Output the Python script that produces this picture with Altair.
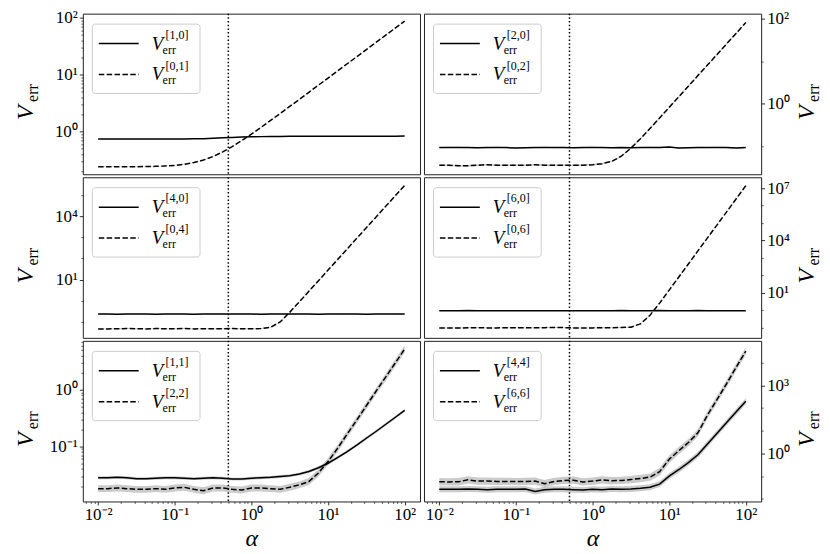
import altair as alt
import pandas as pd

# ---------------- data ----------------
alpha = [0.01, 0.0133, 0.0178, 0.0237, 0.0316, 0.0422, 0.0562, 0.075, 0.1, 0.133,
         0.178, 0.237, 0.316, 0.422, 0.562, 0.75, 1.0, 1.33, 1.78, 2.37, 3.16, 4.22,
         5.62, 7.5, 10.0, 13.3, 17.8, 23.7, 31.6, 42.2, 56.2, 75.0, 100.0]

alpha_mark = [0.5]

p1_solid = [0.74, 0.74, 0.74, 0.74, 0.74, 0.74, 0.74, 0.74, 0.74, 0.742, 0.745, 0.75, 0.76,
            0.775, 0.79, 0.80, 0.81, 0.815, 0.82, 0.82, 0.825, 0.825, 0.825, 0.83, 0.83,
            0.83, 0.83, 0.83, 0.83, 0.83, 0.83, 0.83, 0.835]
p1_dash = [0.24, 0.24, 0.24, 0.241, 0.242, 0.243, 0.245, 0.249, 0.255, 0.266, 0.286, 0.316,
           0.365, 0.439, 0.545, 0.695, 0.90, 1.18, 1.57, 2.07, 2.76, 3.67, 4.89, 6.53, 8.7,
           11.6, 15.5, 20.6, 27.5, 36.7, 48.9, 65.3, 87.0]

p2_solid = [0.091, 0.092, 0.092, 0.091, 0.090, 0.091, 0.092, 0.091, 0.089, 0.090, 0.091,
            0.092, 0.091, 0.091, 0.090, 0.091, 0.092, 0.091, 0.090, 0.091, 0.090, 0.091,
            0.092, 0.091, 0.094, 0.089, 0.090, 0.091, 0.091, 0.092, 0.091, 0.089, 0.091]
p2_dash = [0.035, 0.035, 0.034, 0.034, 0.035, 0.036, 0.035, 0.035, 0.035, 0.035, 0.036,
           0.035, 0.035, 0.035, 0.035, 0.035, 0.036, 0.038, 0.043, 0.057, 0.088, 0.148,
           0.258, 0.457, 0.81, 1.43, 2.57, 4.55, 8.09, 14.4, 25.6, 45.6, 81.0]

p3_solid = [0.235, 0.235, 0.232, 0.235, 0.237, 0.235, 0.233, 0.235, 0.236, 0.235, 0.234,
            0.236, 0.235, 0.235, 0.236, 0.235, 0.235, 0.234, 0.236, 0.237, 0.235, 0.236,
            0.235, 0.234, 0.236, 0.235, 0.238, 0.236, 0.234, 0.235, 0.237, 0.235, 0.235]
p3_dash = [0.047, 0.047, 0.048, 0.049, 0.048, 0.047, 0.049, 0.048, 0.048, 0.049, 0.047,
           0.048, 0.048, 0.048, 0.049, 0.048, 0.048, 0.049, 0.056, 0.10, 0.284, 0.889,
           2.8, 8.86, 28.0, 87.6, 280.0, 885.0, 2800.0, 8870.0, 28000.0, 88600.0, 280000.0]

p4_solid = [0.91, 0.91, 0.92, 0.93, 0.91, 0.90, 0.91, 0.92, 0.91, 0.90, 0.91, 0.92, 0.91,
            0.91, 0.92, 0.91, 0.91, 0.90, 0.92, 0.93, 0.91, 0.91, 0.92, 0.94, 0.92, 0.90,
            0.91, 0.93, 0.91, 0.91, 0.92, 0.91, 0.91]
p4_dash = [0.093, 0.094, 0.093, 0.095, 0.097, 0.094, 0.094, 0.095, 0.095, 0.096, 0.096,
           0.097, 0.099, 0.098, 0.093, 0.092, 0.094, 0.096, 0.097, 0.099, 0.103, 0.16,
           0.5, 2.49, 14.0, 77.0, 442.0, 2490.0, 14000.0, 78700.0, 440000.0, 2500000.0,
           14000000.0]

p5_solid = [0.028, 0.028, 0.0285, 0.028, 0.027, 0.027, 0.0275, 0.028, 0.028, 0.0275, 0.027,
            0.0275, 0.028, 0.0275, 0.0265, 0.0265, 0.0275, 0.028, 0.0285, 0.0295, 0.0305,
            0.0325, 0.036, 0.042, 0.0505, 0.0636, 0.0812, 0.105, 0.139, 0.183, 0.243,
            0.323, 0.43]
p5_dash = [0.018, 0.018, 0.0185, 0.018, 0.0175, 0.0175, 0.018, 0.0175, 0.0185, 0.019,
           0.0175, 0.0165, 0.0185, 0.0185, 0.0175, 0.017, 0.0185, 0.0185, 0.018, 0.0175,
           0.019, 0.021, 0.024, 0.034, 0.054, 0.092, 0.165, 0.29, 0.52, 0.93, 1.64, 2.92,
           5.2]

p6_solid = [0.026, 0.026, 0.026, 0.027, 0.026, 0.025, 0.026, 0.026, 0.026, 0.027, 0.021,
            0.025, 0.026, 0.026, 0.025, 0.024, 0.026, 0.025, 0.027, 0.026, 0.027, 0.029,
            0.032, 0.044, 0.10, 0.19, 0.39, 0.87, 2.6, 7.8, 23.0, 68.0, 200.0]
p6_dash = [0.056, 0.055, 0.056, 0.068, 0.060, 0.060, 0.058, 0.058, 0.057, 0.058, 0.060,
           0.046, 0.058, 0.064, 0.066, 0.055, 0.060, 0.068, 0.062, 0.064, 0.070, 0.078,
           0.090, 0.155, 0.55, 1.3, 3.0, 8.0, 49.0, 240.0, 1200.0, 6300.0, 32000.0]

# band spread factors (solid, dashed)
bands = [(1.01, 1.01), (1.03, 1.04), (1.03, 1.05), (1.04, 1.06), (1.06, 1.15), (1.35, 1.45)]

legend_labels = [("[1,0]", "[0,1]"), ("[2,0]", "[0,2]"), ("[4,0]", "[0,4]"),
                 ("[6,0]", "[0,6]"), ("[1,1]", "[2,2]"), ("[4,4]", "[6,6]")]

y_domains = [(0.178, 117.5), (0.0214, 131.8), (0.0178, 676000.0), (0.0251, 4.27e7),
             (0.0107, 7.24), (0.00759, 91200.0)]
y_major_exp = [[0, 1, 2], [0, 2], [1, 4], [1, 4, 7], [-1, 0], [0, 3]]
y_minor = [
    [0.2, 0.3, 0.4, 0.5, 0.6, 0.7, 0.8, 0.9, 2, 3, 4, 5, 6, 7, 8, 9, 20, 30, 40, 50, 60, 70, 80, 90],
    [0.1, 10],
    [0.1, 1, 100, 1000, 100000],
    [0.1, 1, 100, 1000, 100000, 1000000],
    [0.02, 0.03, 0.04, 0.05, 0.06, 0.07, 0.08, 0.09, 0.2, 0.3, 0.4, 0.5, 0.6, 0.7, 0.8, 0.9,
     2, 3, 4, 5, 6, 7],
    [0.01, 0.1, 10, 100, 10000],
]
x_major_exp = [-2, -1, 0, 1, 2]
x_minor = [0.007, 0.008, 0.009, 0.02, 0.03, 0.04, 0.05, 0.06, 0.07, 0.08, 0.09,
           0.2, 0.3, 0.4, 0.5, 0.6, 0.7, 0.8, 0.9, 2, 3, 4, 5, 6, 7, 8, 9,
           20, 30, 40, 50, 60, 70, 80, 90]
x_domain = (0.00631, 158.5)

solids = [p1_solid, p2_solid, p3_solid, p4_solid, p5_solid, p6_solid]
dashes = [p1_dash, p2_dash, p3_dash, p4_dash, p5_dash, p6_dash]

# ---------------- styling ----------------
FONT = "Liberation Serif"
W, H = 338, 161
DASH = [5.5, 2.4]
DOT = [1.5, 2.2]
GRAY = "#8c8c8c"

SUP = str.maketrans("-0123456789", "⁻⁰¹²³⁴⁵⁶⁷⁸⁹")


def label_expr(exps):
    expr = "''"
    for k in reversed(exps):
        lab = "10" + str(k).translate(SUP)
        expr = f"(abs(log(datum.value)/LN10 - ({k})) < 0.01) ? '{lab}' : ({expr})"
    return expr


one = pd.DataFrame({"k": [0]})


def txt(text, x, y, size, italic=False):
    kw = dict(font=FONT, fontSize=size, color="black", align="left",
              baseline="alphabetic")
    if italic:
        kw["fontStyle"] = "italic"
    return alt.Chart(one).mark_text(**kw).encode(
        x=alt.value(x), y=alt.value(y), text=alt.value(text))


def panel(i):
    side = "left" if i % 2 == 0 else "right"
    bottom = i >= 4
    fs, fd = bands[i]
    df = pd.DataFrame({"alpha": alpha, "s": solids[i], "d": dashes[i]})
    df["s_lo"] = df["s"] / fs
    df["s_hi"] = df["s"] * fs
    df["d_lo"] = df["d"] / fd
    df["d_hi"] = df["d"] * fd

    xs = alt.Scale(type="log", domain=list(x_domain), nice=False)
    ys = alt.Scale(type="log", domain=list(y_domains[i]), nice=False)
    base = alt.Chart(df)

    if bottom:
        x_axis = alt.Axis(orient="bottom", values=[10.0 ** k for k in x_major_exp],
                          labelExpr=label_expr(x_major_exp), grid=False, domain=False,
                          tickSize=3.5, tickColor="black", tickWidth=0.8,
                          labelFont=FONT, labelFontSize=17, labelColor="black",
                          labelPadding=2, labelFlush=False, labelOverlap=False,
                          title="α", titleFont=FONT, titleFontStyle="italic",
                          titleFontWeight="normal", titleFontSize=24,
                          titleColor="black", titlePadding=4)
        x_minor_axis = alt.Axis(orient="bottom", values=x_minor, labels=False,
                                grid=False, domain=False, tickSize=2,
                                tickColor="black", tickWidth=0.6, title=None)
    else:
        x_axis = None
        x_minor_axis = None

    # y title V_err drawn as two rotated axis titles (reading bottom to top)
    tx = -50 if side == "left" else 52
    y_axis = alt.Axis(orient=side, values=[10.0 ** k for k in y_major_exp[i]],
                      labelExpr=label_expr(y_major_exp[i]), grid=False, domain=False,
                      tickSize=3.5, tickColor="black", tickWidth=0.8,
                      labelFont=FONT, labelFontSize=17, labelColor="black",
                      labelPadding=2, labelFlush=False, labelOverlap=False,
                      title="V", titleFont=FONT, titleFontStyle="italic",
                      titleFontWeight="normal", titleFontSize=24, titleColor="black",
                      titleAngle=270, titleX=tx, titleY=106, titleAlign="left",
                      titleBaseline="alphabetic")
    y_minor_axis = alt.Axis(orient=side, values=y_minor[i], labels=False, grid=False,
                            domain=False, tickSize=2, tickColor="black",
                            tickWidth=0.6,
                            title="err", titleFont=FONT, titleFontWeight="normal",
                            titleFontSize=16, titleColor="black", titleAngle=270,
                            titleX=tx + 5, titleY=88, titleAlign="left",
                            titleBaseline="alphabetic")

    band_s = base.mark_area(color=GRAY, opacity=0.45).encode(
        x=alt.X("alpha:Q", scale=xs, axis=None),
        y=alt.Y("s_lo:Q", scale=ys, axis=None), y2="s_hi:Q")
    band_d = base.mark_area(color=GRAY, opacity=0.45).encode(
        x=alt.X("alpha:Q", scale=xs, axis=None),
        y=alt.Y("d_lo:Q", scale=ys, axis=None), y2="d_hi:Q")
    line_s = base.mark_line(color="black", strokeWidth=1.5).encode(
        x=alt.X("alpha:Q", scale=xs, axis=x_axis, title="α" if bottom else None),
        y=alt.Y("s:Q", scale=ys, axis=y_axis, title="V"))
    line_d = base.mark_line(color="black", strokeWidth=1.5, strokeDash=DASH).encode(
        x=alt.X("alpha:Q", scale=xs, axis=None),
        y=alt.Y("d:Q", scale=ys, axis=None))
    minor = base.mark_point(opacity=0).encode(
        x=alt.X("alpha:Q", scale=xs, axis=x_minor_axis, title=None),
        y=alt.Y("s:Q", scale=ys, axis=y_minor_axis, title="err"))
    vline = alt.Chart(pd.DataFrame({"a": alpha_mark})).mark_rule(
        color="black", strokeWidth=1.5, strokeDash=DOT).encode(
        x=alt.X("a:Q", scale=xs, axis=None))

    # legend box
    box = alt.Chart(one).mark_rect(fill="white", fillOpacity=0.8, stroke="#cccccc",
                                   strokeWidth=1, cornerRadius=3).encode(
        x=alt.value(9.5), x2=alt.value(117.5), y=alt.value(10.5), y2=alt.value(80))
    sample_s = alt.Chart(one).mark_rule(color="black", strokeWidth=1.5).encode(
        x=alt.value(16), x2=alt.value(56), y=alt.value(30))
    sample_d = alt.Chart(one).mark_rule(color="black", strokeWidth=1.5,
                                        strokeDash=DASH).encode(
        x=alt.value(16), x2=alt.value(56), y=alt.value(61))
    ls, ld = legend_labels[i]
    leg = []
    for lab, yb in ((ls, 36), (ld, 67)):
        leg += [txt("V", 69, yb, 19, italic=True),
                txt(lab, 83, yb - 11, 12),
                txt("err", 80, yb + 4, 12)]

    layers = [band_s, band_d, line_s, line_d, minor, vline, box, sample_s, sample_d] + leg
    return alt.layer(*layers).resolve_axis(x="independent", y="independent").properties(
        width=W, height=H)


chart = alt.concat(*[panel(i) for i in range(6)], columns=2, bounds="flush",
                   spacing={"row": 3, "column": 4}).properties(
    padding={"left": 5, "top": -1, "right": 0, "bottom": 0},
    background="white"
).configure_view(stroke="#222222", strokeWidth=1)

chart.save("out.html", embed_options={"renderer": "svg", "actions": False})
